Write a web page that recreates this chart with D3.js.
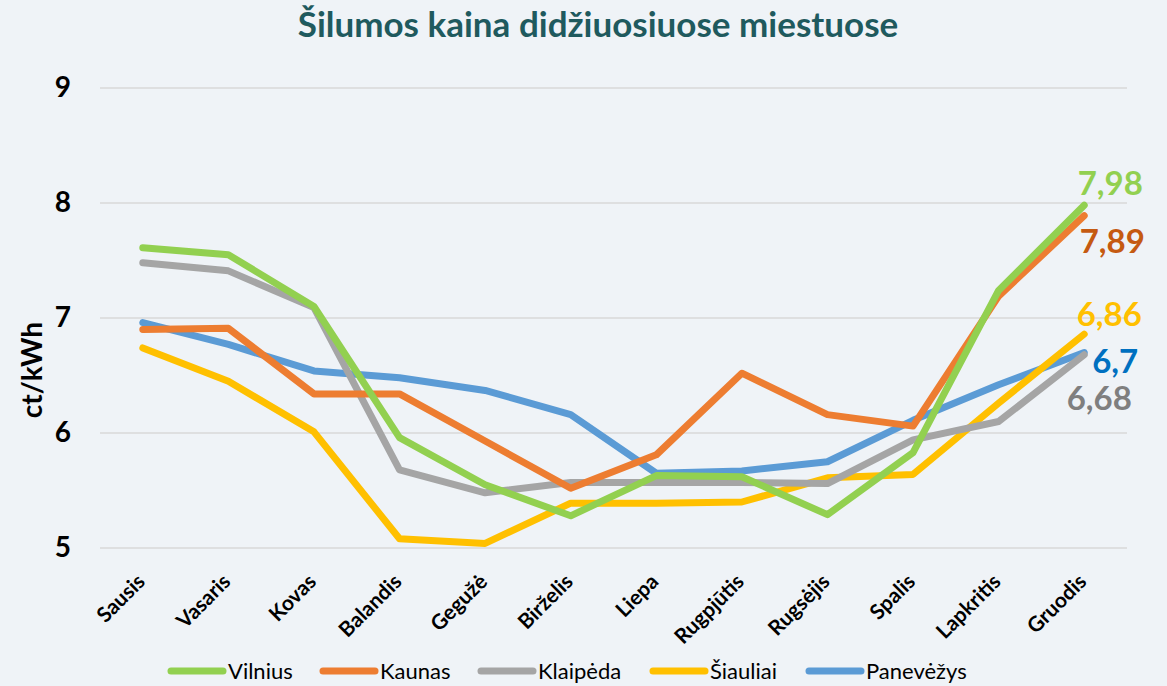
<!DOCTYPE html>
<html><head><meta charset="utf-8">
<script src="https://cdn.jsdelivr.net/npm/d3@7"></script>
<style>
html,body{margin:0;padding:0;background:#eff3f7;}
svg{display:block;font-family:Lato,"Open Sans",sans-serif;}
</style></head>
<body>
<svg id="c" width="1167" height="686"></svg>
<script>
const months = ["Sausis","Vasaris","Kovas","Balandis","Gegužė","Birželis","Liepa","Rugpjūtis","Rugsėjis","Spalis","Lapkritis","Gruodis"];
const vilnius   = [7.61,7.55,7.10,5.96,5.55,5.28,5.63,5.62,5.29,5.83,7.24,7.98];
const kaunas    = [6.90,6.91,6.34,6.34,5.93,5.52,5.81,6.52,6.16,6.06,7.19,7.89];
const klaipeda  = [7.48,7.41,7.09,5.68,5.48,5.57,5.57,5.57,5.56,5.94,6.10,6.68];
const siauliai  = [6.74,6.45,6.01,5.08,5.04,5.39,5.39,5.40,5.61,5.64,6.26,6.86];
const panevezys = [6.96,6.77,6.54,6.48,6.37,6.16,5.65,5.67,5.75,6.11,6.42,6.70];
const seriesNames = ["Vilnius","Kaunas","Klaipėda","Šiauliai","Panevėžys"];
const endLabels = ["7,98","7,89","6,68","6,86","6,7"];
const yTicks = [5,6,7,8,9];
const title = "Šilumos kaina didžiuosiuose miestuose";
const yTitle = "ct/kWh";

const series = [
  {name:seriesNames[0], values:vilnius,   color:"#92d050", label:"#92d050", lbl:endLabels[0], dy:-10, dx:26},
  {name:seriesNames[1], values:kaunas,    color:"#ed7d31", label:"#c55a11", lbl:endLabels[1], dy:37, dx:28},
  {name:seriesNames[2], values:klaipeda,  color:"#a5a5a5", label:"#7f7f7f", lbl:endLabels[2], dy:55, dx:15},
  {name:seriesNames[3], values:siauliai,  color:"#ffc000", label:"#ffc000", lbl:endLabels[3], dy:-8, dx:25},
  {name:seriesNames[4], values:panevezys, color:"#5b9bd5", label:"#0070c0", lbl:endLabels[4], dy:20, dx:31}
];

const svg = d3.select("#c");
const x = d3.scalePoint().domain(months).range([100,1127]).padding(0.5);
const y = d3.scaleLinear().domain([5,9]).range([548,88]);

svg.append("text").attr("x",598).attr("y",37).attr("text-anchor","middle")
  .attr("font-size",35).attr("font-weight","bold").attr("fill","#1f5a5e").text(title);

// grid
svg.append("g").selectAll("line").data(yTicks).join("line")
  .attr("x1",100).attr("x2",1127).attr("y1",d=>y(d)).attr("y2",d=>y(d))
  .attr("stroke","#d9d9d9").attr("stroke-width",1.5);

// y axis labels
const yAxis = d3.axisLeft(y).tickValues(yTicks).tickSize(0).tickPadding(0).tickFormat(d3.format("d"));
const ya = svg.append("g").attr("transform","translate(71,0)").call(yAxis);
ya.select(".domain").remove();
ya.selectAll("text").attr("font-size",28).attr("font-weight","bold").attr("fill","#000").attr("font-family","Lato");

svg.append("text").attr("transform","translate(42,370) rotate(-90)").attr("text-anchor","middle")
  .attr("font-size",28).attr("font-weight","bold").attr("fill","#000").text(yTitle);

// x axis labels
const xAxis = d3.axisBottom(x).tickSize(0).tickPadding(0);
const xa = svg.append("g").attr("transform","translate(0,548)").call(xAxis);
xa.select(".domain").remove();
xa.selectAll("text").attr("font-size",21).attr("font-weight","bold").attr("fill","#000")
  .attr("font-family","Lato").attr("text-anchor","end").attr("dy",null)
  .attr("transform","translate(3,35) rotate(-45)");

// lines
const line = d3.line().x((d,i)=>x(months[i])).y(d=>y(d));
const drawOrder = [4,3,2,1,0];
svg.append("g").selectAll("path").data(drawOrder.map(i=>series[i])).join("path")
  .attr("d",d=>line(d.values)).attr("fill","none").attr("stroke",d=>d.color)
  .attr("stroke-width",7).attr("stroke-linejoin","round").attr("stroke-linecap","round");

// end labels
svg.append("g").selectAll("text").data(series).join("text")
  .attr("x",d=>x(months[11])+d.dx).attr("y",d=>y(d.values[11])+d.dy)
  .attr("text-anchor","middle").attr("font-size",33).attr("font-weight","bold")
  .attr("fill",d=>d.label).text(d=>d.lbl);

// legend
const legX = [168,320,478,650,806];
const lg = svg.append("g").selectAll("g").data(series).join("g")
  .attr("transform",(d,i)=>`translate(${legX[i]},671)`);
lg.append("line").attr("x1",3).attr("x2",55).attr("y1",0).attr("y2",0)
  .attr("stroke",d=>d.color).attr("stroke-width",7).attr("stroke-linecap","round");
lg.append("text").attr("x",60).attr("y",8).attr("font-size",22).attr("fill","#000").text(d=>d.name);
</script>
</body></html>
